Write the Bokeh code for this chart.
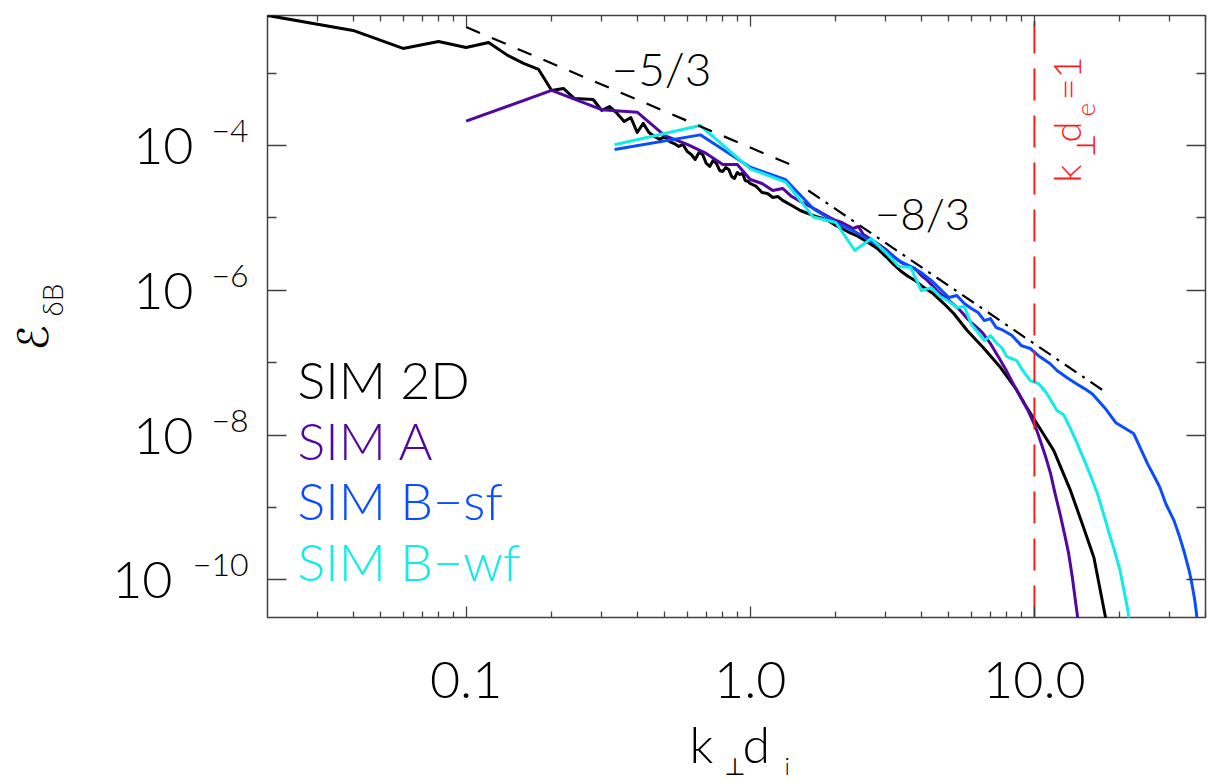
import numpy as np
from bokeh.plotting import figure
from bokeh.layouts import row, column
from bokeh.models import Label, FixedTicker, LogAxis, Range1d, CustomJSTickFormatter
from bokeh.core.properties import value
from bokeh.embed import file_html
from bokeh.resources import INLINE

# ---------------- data ----------------
X_RANGE = (0.02, 40.0)
Y_RANGE = (3.0e-11, 6.3e-3)

sim2d_k = [0.02, 0.04, 0.06, 0.08, 0.10, 0.12, 0.14, 0.16, 0.18, 0.20,
           0.22, 0.24, 0.26, 0.28, 0.30, 0.32, 0.34, 0.36, 0.38, 0.40,
           0.42, 0.44, 0.46, 0.48, 0.50, 0.52, 0.54, 0.56, 0.58, 0.60,
           0.62, 0.64, 0.66, 0.68, 0.70, 0.72, 0.74, 0.76, 0.78, 0.80,
           0.82, 0.84, 0.86, 0.88, 0.90, 0.92, 0.94, 0.96, 0.98, 1.00,
           1.05, 1.1, 1.15, 1.2, 1.25, 1.3, 1.4, 1.5, 1.6, 1.7, 1.8, 1.9, 2.0,
           2.2, 2.4, 2.6, 2.8, 3.0, 3.2, 3.4, 3.6, 3.8, 4.0,
           4.4, 4.8, 5.2, 5.8, 6.6, 7.6, 8.6, 9.4, 10.2, 11.7, 13.4, 14.9, 16.2, 17.8, 18.2]
sim2d_E = [6.32e-3, 3.92e-3, 2.21e-3, 2.76e-3, 2.28e-3, 2.67e-3, 1.77e-3, 1.36e-3, 1.13e-3, 5.80e-4,
           6.18e-4, 4.50e-4, 4.43e-4, 4.35e-4, 3.07e-4, 3.48e-4, 2.79e-4, 2.16e-4, 2.45e-4, 1.52e-4,
           2.03e-4, 1.52e-4, 1.34e-4, 1.22e-4, 1.34e-4, 1.14e-4, 1.07e-4, 9.75e-5, 1.04e-4, 8.31e-5,
           7.55e-5, 6.44e-5, 8.05e-5, 7.55e-5, 5.67e-5, 5.16e-5, 6.24e-5, 5.67e-5, 4.54e-5, 4.40e-5,
           4.99e-5, 4.69e-5, 3.75e-5, 3.52e-5, 4.26e-5, 4.00e-5, 4.12e-5, 3.30e-5, 3.20e-5, 3.00e-5,
           2.73e-5, 2.25e-5, 2.18e-5, 1.92e-5, 1.98e-5, 1.75e-5, 1.49e-5, 1.27e-5, 1.15e-5, 1.05e-5,
           9.84e-6, 8.95e-6, 7.87e-6,
           6.50e-6, 5.55e-6, 4.58e-6, 3.79e-6, 2.93e-6, 2.27e-6, 1.82e-6, 1.55e-6, 1.37e-6, 1.16e-6,
           9.03e-7, 6.57e-7, 4.78e-7, 2.78e-7, 1.62e-7, 8.55e-8, 4.38e-8, 2.39e-8, 1.44e-8, 6.09e-9,
           1.70e-9, 5.24e-10, 2.01e-10, 2.98e-11, 1.43e-11]

simA_k = [0.1, 0.2, 0.3, 0.4, 0.5, 0.6, 0.7, 0.8, 0.9, 1.0,
          1.1, 1.2, 1.3, 1.4, 1.5, 1.6, 1.7, 1.8, 1.9, 2.0,
          2.1, 2.2, 2.3, 2.4, 2.5, 2.6,
          2.8, 3.0, 3.2, 3.4, 3.6, 3.8, 4.0, 4.2, 4.4, 4.6, 4.8, 5.0, 5.2, 5.4, 5.6, 5.8, 6.0,
          6.4, 6.6, 7.0, 7.6, 8.0, 8.6, 9.0, 9.5, 10.0, 10.2, 10.6, 11.0, 11.4, 11.8, 12.3, 12.8,
          13.2, 13.6, 14.0, 14.2, 14.4]
simA_E = [2.18e-4, 5.80e-4, 3.14e-4, 2.90e-4, 1.38e-4, 1.04e-4, 7.80e-5, 5.50e-5, 5.50e-5, 3.41e-5,
          3.00e-5, 2.40e-5, 2.56e-5, 1.98e-5, 1.69e-5, 1.49e-5, 1.31e-5, 1.15e-5, 1.02e-5, 9.23e-6,
          8.66e-6, 7.87e-6, 7.16e-6, 7.63e-6, 5.91e-6, 5.37e-6,
          4.44e-6, 3.67e-6, 2.93e-6, 2.42e-6, 2.20e-6, 2.00e-6, 1.60e-6, 1.37e-6, 1.13e-6, 9.33e-7,
          8.21e-7, 7.23e-7, 6.36e-7, 5.60e-7, 4.78e-7, 4.07e-7, 3.59e-7,
          2.87e-7, 2.53e-7, 1.84e-7, 1.07e-7, 7.53e-8, 4.38e-8, 3.19e-8, 2.18e-8, 1.39e-8, 1.15e-8,
          7.37e-9, 4.72e-9, 2.92e-9, 1.60e-9, 8.18e-10, 4.06e-10, 2.29e-10, 1.07e-10, 4.51e-11,
          2.98e-11, 1.68e-11]

simBsf_k = [0.333, 0.667, 1.0, 1.333, 1.667, 2.0, 2.333, 2.667, 3.0, 3.333,
            3.667, 4.0, 4.333, 4.667, 5.0, 5.333, 5.667, 6.0, 6.333, 6.667,
            7.0, 7.333, 7.667, 8.0, 8.333,
            9.0, 9.667, 10.333, 11.333, 12.0, 13.0, 14.0, 15.0, 16.0, 17.667,
            19.333, 20.333, 22.333, 24.0, 25.0, 26.667, 27.667, 29.0, 31.0, 32.333,
            33.667, 35.0, 35.667, 36.667, 37.333, 37.667]
simBsf_E = [8.86e-5, 1.41e-4, 5.04e-5, 3.38e-5, 1.34e-5, 8.66e-6, 6.50e-6, 4.73e-6, 3.55e-6, 2.58e-6,
            2.13e-6, 1.76e-6, 1.37e-6, 1.03e-6, 7.95e-7, 8.47e-7, 6.57e-7, 5.60e-7, 4.93e-7, 3.82e-7,
            4.07e-7, 3.06e-7, 2.87e-7, 2.61e-7, 2.37e-7,
            1.72e-7, 1.57e-7, 1.25e-7, 9.72e-8, 7.78e-8, 6.22e-8, 5.14e-8, 4.38e-8, 3.69e-8, 2.39e-8,
            1.48e-8, 1.31e-8, 1.05e-8, 5.71e-9, 4.02e-9, 2.49e-9, 1.87e-9, 1.12e-9, 6.55e-10, 4.06e-10,
            2.41e-10, 1.36e-10, 9.57e-11, 5.22e-11, 2.98e-11, 1.68e-11]

simBwf_k = [0.333, 0.667, 1.0, 1.333, 1.667, 2.0, 2.333, 2.667, 3.0, 3.333,
            3.667, 4.0, 4.333, 4.667, 5.0, 5.333, 5.667, 6.0, 6.333, 6.667,
            7.0, 7.333, 7.667, 8.0,
            8.667, 9.0, 9.667, 10.333, 11.0, 11.667, 12.0, 12.667, 13.333, 14.0,
            15.0, 15.667, 16.667, 17.667, 18.333, 19.0, 20.0, 20.667, 21.333, 21.667]
simBwf_E = [1.03e-4, 1.90e-4, 4.79e-5, 3.13e-5, 1.03e-5, 8.66e-6, 3.55e-6, 5.21e-6, 3.33e-6, 2.13e-6,
            2.07e-6, 9.94e-7, 1.09e-6, 8.21e-7, 7.00e-7, 5.78e-7, 5.96e-7, 3.37e-7, 2.61e-7, 2.02e-7,
            2.37e-7, 1.90e-7, 1.62e-7, 1.21e-7,
            1.07e-7, 8.29e-8, 5.65e-8, 5.14e-8, 3.86e-8, 2.63e-8, 2.18e-8, 1.91e-8, 1.27e-8, 8.37e-9,
            4.42e-9, 2.92e-9, 1.55e-9, 7.20e-10, 4.33e-10, 2.77e-10, 1.36e-10, 7.05e-11, 3.73e-11, 2.31e-11]

# reference power laws and k_perp d_e = 1 marker
ref53_k = [0.1, 1.42]
ref53_E = [4.36e-3, 5.25e-5]
ref83_k = [1.60, 17.5]
ref83_E = [2.40e-5, 4.10e-8]
kde1_k = [10.0, 10.0]
kde1_E = [3.0e-11, 6.3e-3]

series_names = ["SIM 2D", "SIM A", "SIM B\u2212sf", "SIM B\u2212wf"]
series_colors = ["#000000", "#5208a0", "#0a4cff", "#12ece6"]

x_major = [0.1, 1.0, 10.0]
x_major_labels = ["0.1", "1.0", "10.0"]
x_minor = [0.03, 0.04, 0.05, 0.06, 0.07, 0.08, 0.09,
           0.2, 0.3, 0.4, 0.5, 0.6, 0.7, 0.8, 0.9,
           2, 3, 4, 5, 6, 7, 8, 9, 20, 30, 40]
y_major_exp = [-4, -6, -8, -10]
y_minor_exp = [-3, -5, -7, -9]

FONT = "Lato Light, Lato, DejaVu Sans"
AX = "#404040"
RED = "#ff1a1a"
ROT = float(np.pi / 2)
BASE_K = 0.45   # measured shift of rendered glyphs below the requested baseline, in em

# ---------------- layout geometry (page pixels) ----------------
PAGE_W, PAGE_H = 1208, 783
FL, FR, FT, FB = 267, 1205, 15, 617     # frame edges
LEFT_W = FL - 2                          # left text panel width
TOP_H = FB + 2                           # height of the upper row
lx0, lx1 = np.log10(X_RANGE)
ly0, ly1 = np.log10(Y_RANGE)


def x2px(x):
    return float(FL + (np.log10(x) - lx0) / (lx1 - lx0) * (FR - FL))


def y2py(y):
    return float(FT + (ly1 - np.log10(y)) / (ly1 - ly0) * (FB - FT))


def fix(px, py, size, angle):
    # move the anchor so that the drawn baseline lands on (px, py)
    if angle:
        return px - BASE_K * size, py
    return px, py - BASE_K * size


# ---------------- main plot ----------------
p = figure(x_axis_type="log", y_axis_type="log",
           x_range=Range1d(*X_RANGE), y_range=Range1d(*Y_RANGE),
           width=PAGE_W - LEFT_W, height=TOP_H,
           min_border_left=FL - LEFT_W, min_border_right=PAGE_W - FR,
           min_border_top=FT, min_border_bottom=TOP_H - FB,
           output_backend="svg", toolbar_location=None)
p.xgrid.visible = False
p.ygrid.visible = False
p.outline_line_color = AX
p.outline_line_width = 1.5
p.background_fill_color = "white"
p.border_fill_color = "white"

top_axis = LogAxis()
right_axis = LogAxis()
p.add_layout(top_axis, "above")
p.add_layout(right_axis, "right")
bottom_axis = p.below[0]
left_axis = p.left[0]

for ax in [bottom_axis, top_axis]:
    ax.ticker = FixedTicker(ticks=x_major, minor_ticks=x_minor)
    ax.major_tick_in, ax.major_tick_out = 11, 0
    ax.minor_tick_in, ax.minor_tick_out = 6, 0
for ax in [left_axis, right_axis]:
    ax.ticker = FixedTicker(ticks=[10.0 ** e for e in y_major_exp],
                            minor_ticks=[10.0 ** e for e in y_minor_exp])
    ax.major_tick_in, ax.major_tick_out = 19, 0
    ax.minor_tick_in, ax.minor_tick_out = 9, 0
for ax in [bottom_axis, top_axis, left_axis, right_axis]:
    ax.axis_line_color = None
    ax.major_tick_line_color = AX
    ax.minor_tick_line_color = AX
    ax.major_tick_line_width = 1.3
    ax.minor_tick_line_width = 1.3
    ax.formatter = CustomJSTickFormatter(code="return ''")
    ax.major_label_text_font_size = "1px"
    ax.major_label_standoff = 0

for k, E, c in zip([sim2d_k, simA_k, simBsf_k, simBwf_k],
                   [sim2d_E, simA_E, simBsf_E, simBwf_E], series_colors):
    p.line(k, E, line_color=c, line_width=3, line_join="round")

p.line(ref53_k, ref53_E, line_color="black", line_width=2.2, line_dash="15 13")
p.line(ref83_k, ref83_E, line_color="black", line_width=2.2, line_dash="14 7 3 7")
p.line(kde1_k, kde1_E, line_color=RED, line_width=2, line_dash="32 15")


def label(px, py, s, size, color="black", align="left", angle=0.0):
    # text inside the frame, placed in canvas pixels of the main plot
    px, py = fix(px, py, size, angle)
    p.add_layout(Label(x=float(px - LEFT_W), y=float(py), x_units="canvas", y_units="canvas",
                       text=s, text_font=FONT, text_font_size=f"{size}px", text_color=color,
                       text_align=align, text_baseline="alphabetic", angle=angle))


for i, (name, c) in enumerate(zip(series_names, series_colors)):
    label(297, 402 + i * 60.5, name, 52, color=c)

label(661, 89, "\u22125/3", 46, align="center")
label(922, 232, "\u22128/3", 44, align="center")

label(1083, 182, "k", 38, color=RED, angle=ROT)
label(1096, 156, "\u22a5", 26, color=RED, angle=ROT)
label(1083, 142, "d", 38, color=RED, angle=ROT)
label(1097, 116, "e", 26, color=RED, angle=ROT)
label(1083, 100, "=1", 38, color=RED, angle=ROT)


# ---------------- text panels outside the frame ----------------
# Each panel's frame is given explicit borders so that its pixel mapping is fixed
# (plots in a row share their top/bottom borders).
def text_panel(w, h, x0, y0, bl=0, br=0, bt=0, bb=0):
    f = figure(width=w, height=h,
               x_range=Range1d(x0 + bl, x0 + w - br), y_range=Range1d(y0 + h - bb, y0 + bt),
               x_axis_location=None, y_axis_location=None, title_location=None,
               min_border=0, min_border_left=bl, min_border_right=br,
               min_border_top=bt, min_border_bottom=bb,
               output_backend="svg", toolbar_location=None)
    f.grid.visible = False
    f.outline_line_color = None
    f.background_fill_color = "white"
    f.border_fill_color = "white"
    return f


def put(f, px, py, s, size, align="left", angle=0.0, color="black"):
    px, py = fix(px, py, size, angle)
    f.text(x=[px], y=[py], text=[s], text_font=value(FONT), text_font_size=f"{size}px",
           text_color=color, text_align=align, text_baseline="alphabetic", angle=angle)


left = text_panel(LEFT_W, TOP_H, 0, 0, bt=FT, bb=TOP_H - FB)
for e in y_major_exp:
    tpy = y2py(10.0 ** e)
    put(left, 248, tpy, "\u2212" + str(abs(e)), 32, align="right")
    put(left, 193 if abs(e) < 10 else 172, tpy + 24, "10", 52, align="right")
put(left, 50, 350, "\u2130", 42, angle=ROT)
put(left, 64, 316, "\u03b4B", 28, angle=ROT)

bottom = text_panel(PAGE_W, PAGE_H - TOP_H, 0, TOP_H, br=PAGE_W - FR)
for t, lab in zip(x_major, x_major_labels):
    put(bottom, x2px(t), 703, lab, 52, align="center")
put(bottom, 689, 766, "k", 50)
put(bottom, 724, 776, "\u22a5", 24)
put(bottom, 742, 766, "d", 50)
put(bottom, 784, 776, "i", 24)

layout = column(row(left, p, spacing=0), bottom, spacing=0)
open("out.html", "w").write(file_html(layout, INLINE))
